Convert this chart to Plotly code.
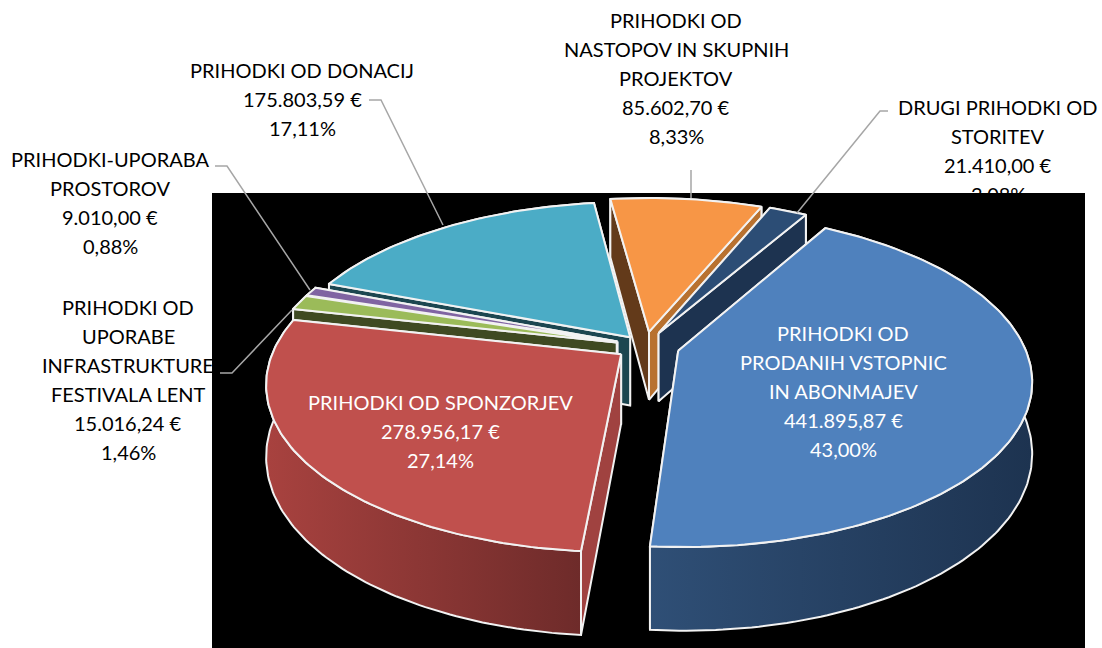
import numpy as np
import plotly.graph_objects as go

# --- data -----------------------------------------------------------------
names = [
    "PRIHODKI OD<br>PRODANIH VSTOPNIC<br>IN ABONMAJEV",
    "PRIHODKI OD SPONZORJEV",
    "PRIHODKI OD<br>UPORABE<br>INFRASTRUKTURE<br>FESTIVALA LENT",
    "PRIHODKI-UPORABA<br>PROSTOROV",
    "PRIHODKI OD DONACIJ",
    "PRIHODKI OD<br>NASTOPOV IN SKUPNIH<br>PROJEKTOV",
    "DRUGI PRIHODKI OD<br>STORITEV",
]
values = [441895.87, 278956.17, 15016.24, 9010.00, 175803.59, 85602.70, 21410.00]
percents = [43.00, 27.14, 1.46, 0.88, 17.11, 8.33, 2.08]

# --- style ----------------------------------------------------------------
top_colors = ["#4f81bd", "#c0504d", "#9bbb59", "#8064a2", "#4bacc6", "#f79646", "#2c4d75"]
rim_colors = [("#2f4f76", "#1d3350"), ("#a8423f", "#6e2b2a"), ("#3f4a22", "#3f4a22"),
              ("#43305c", "#43305c"), ("#1c4650", "#1c4650"), ("#b8712f", "#b8712f"),
              ("#1d3350", "#1d3350")]
start_side = ["#1f3552", "#a04240", "#3f4a22", "#43305c", "#1c4650", "#633a1a", "#1d3350"]
end_side = ["#1f3552", "#6e2b2a", "#3f4a22", "#43305c", "#1c4650", "#b8712f", "#1d3350"]
explode = [0.10, 0.085, 0.085, 0.085, 0.07, 0.09, 0.09]
label_colors = ["white", "white", "black", "black", "black", "black", "black"]
label_pos = [(843, 333), (440, 402), (128, 307), (110, 159), (302, 70), (676, 20), (998, 107)]
paint_order = [4, 3, 2, 5, 6, 1, 0]
START_ANGLE = 30.0
CX, CY, R, RY, K, DEPTH = 645, 346, 346, 161, 0.17, 69
LINE_H = 29

leaders = [
    ([369, 381, 443], [100, 100, 225]),
    ([215, 227, 310], [166, 166, 290]),
    ([220, 232, 292], [373, 373, 310]),
    ([691, 691], [170, 198]),
    ([888, 880, 797], [111, 111, 213]),
]


def euro(v):
    s = f"{v:,.2f}".replace(",", "X").replace(".", ",").replace("X", ".")
    return s + " €"


def proj(u, v, z=0.0):
    s = 1.0 / (1.0 - K * v)
    return CX + R * u * s, CY + RY * v * s + DEPTH * z * s


def poly(fig, xs, ys, color=None, grad=None):
    kw = dict(x=xs, y=ys, mode="lines", fill="toself", hoverinfo="skip", showlegend=False,
              line=dict(color="#f2f2f2", width=2))
    if grad is not None and grad[0] != grad[1]:
        kw["fillgradient"] = dict(type="horizontal", colorscale=[[0, grad[0]], [1, grad[1]]])
    else:
        kw["fillcolor"] = color
    fig.add_trace(go.Scatter(**kw))


fig = go.Figure()
total = sum(values)
fracs = [v / total * 360 for v in values]
starts = START_ANGLE + np.concatenate([[0], np.cumsum(fracs)[:-1]])

for i in paint_order:
    a0, a1 = starts[i], starts[i] + fracs[i]
    mid = np.radians((a0 + a1) / 2)
    ou, ov = explode[i] * np.sin(mid), -explode[i] * np.cos(mid)
    th = np.radians(np.linspace(a0, a1, max(int(fracs[i]) + 2, 4)))
    au, av = ou + np.sin(th), ov - np.cos(th)

    ax, ay = proj(ou, ov)
    axd, ayd = proj(ou, ov, 1)
    tx, ty = proj(au, av)
    bx, by = proj(au, av, 1)

    face0 = (-np.sin(th[0]), [ax, tx[0], bx[0], axd, ax], [ay, ty[0], by[0], ayd, ay], start_side[i])
    face1 = (np.sin(th[-1]), [ax, tx[-1], bx[-1], axd, ax], [ay, ty[-1], by[-1], ayd, ay], end_side[i])
    faces = sorted([face0, face1], key=lambda f: f[0])

    # faces turned away from the viewer go under the rim, the others over it
    for nv, fx, fy, fc in faces:
        if nv < 0:
            poly(fig, fx, fy, color=fc)
    poly(fig, np.r_[tx, bx[::-1], tx[0]], np.r_[ty, by[::-1], ty[0]],
         color=rim_colors[i][0], grad=rim_colors[i])
    for nv, fx, fy, fc in faces:
        if nv >= 0:
            poly(fig, fx, fy, color=fc)
    # top face
    poly(fig, np.r_[ax, tx, ax], np.r_[ay, ty, ay], color=top_colors[i])

for lx, ly in leaders:
    fig.add_trace(go.Scatter(x=lx, y=ly, mode="lines", hoverinfo="skip", showlegend=False,
                             line=dict(color="#a6a6a6", width=1.5)))

for i, (x, y) in enumerate(label_pos):
    lines = names[i].split("<br>") + [euro(values[i]), f"{percents[i]:.2f}".replace(".", ",") + "%"]
    for j, t in enumerate(lines):
        fig.add_annotation(x=x, y=y + j * LINE_H, text=t, showarrow=False, xanchor="center",
                           yanchor="middle", font=dict(family="Lato", size=20, color=label_colors[i]))

fig.update_layout(
    width=1102, height=648, margin=dict(l=0, r=0, t=0, b=0),
    paper_bgcolor="white", plot_bgcolor="white", showlegend=False,
    xaxis=dict(range=[0, 1102], visible=False, fixedrange=True),
    yaxis=dict(range=[648, 0], visible=False, fixedrange=True),
    shapes=[dict(type="rect", xref="x", yref="y", x0=212, x1=1085, y0=193, y1=648,
                 fillcolor="black", line=dict(width=0), layer="below")],
)
fig.write_html("out.html", config={"displayModeBar": False},
               post_script="document.body.style.margin='0';")
